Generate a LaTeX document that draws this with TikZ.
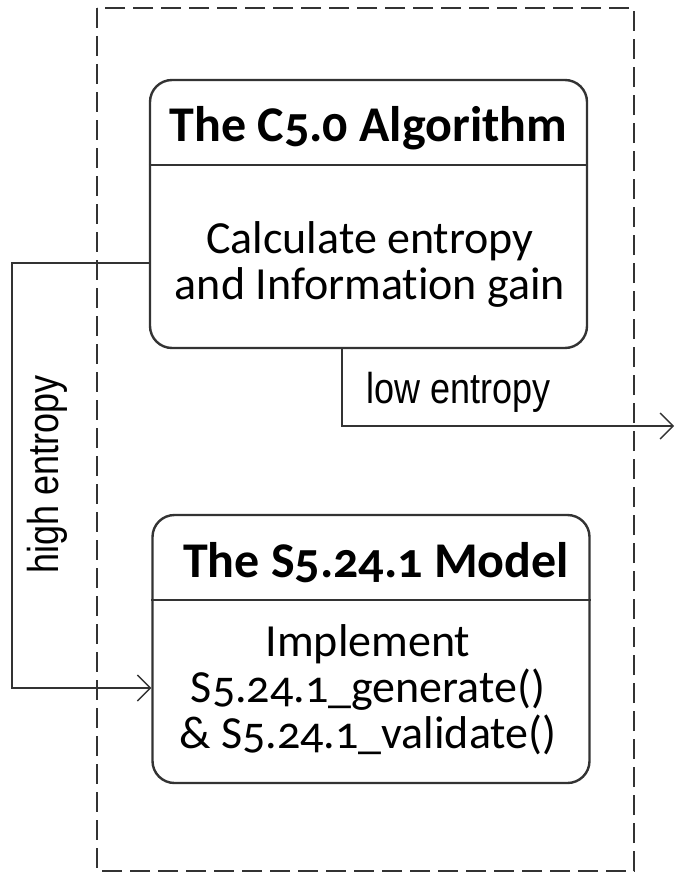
\documentclass[tikz,border=0pt]{standalone}
\usepackage{fontspec}
\setmainfont{Carlito}[Numbers=OldStyle, Ligatures=NoCommon]
\newfontfamily\lblfont{Liberation Sans}
\usetikzlibrary{arrows.meta}
\tikzset{
  umlbox/.style={draw=black!80, line width=2.4pt, rounded corners=22pt, minimum width=437pt, minimum height=268pt, inner sep=0pt},
  conn/.style={draw=black!80, line width=2pt},
  tip/.style={-{Straight Barb[length=13pt,width=26pt,line width=1.4pt]}},
  frame/.style={draw=black!80, line width=2.4pt, dash pattern=on 20pt off 8pt},
  ttl/.style={font=\fontsize{50}{54}\selectfont\bfseries, inner sep=0pt},
  body/.style={font=\fontsize{46}{46}\selectfont, align=center, inner sep=0pt},
  lbl/.style={font=\lblfont\fontsize{36}{40}\selectfont, inner sep=0pt}
}
\begin{document}
\begin{tikzpicture}[x=1pt,y=-1pt]
\useasboundingbox (0,0) rectangle (675,875);
\draw[frame] (97,8) rectangle (634,871);
% box 1
\node[umlbox] (b1) at (368.5,214) {};
\draw[conn, line width=2.4pt] (b1.west |- 0,165) -- (b1.east |- 0,165);
\node[ttl] (t1) at (368.5,128) {The C5.0 Algorithm};
\node[body] (d1) at (370,264) {Calculate entropy\\and Information gain};
% box 2
\node[umlbox] (b2) at (371,649) {};
\draw[conn, line width=2.4pt] (b2.west |- 0,600) -- (b2.east |- 0,600);
\node[ttl] (t2) at (376,563) {The S5.24.1 Model};
\node[body] (d2) at (368,690) {Implement\\S5.24.1\_generate()\\\&~S5.24.1\_validate()};
% connectors
\coordinate (h1) at (12,263);
\coordinate (h2) at (12,688);
\draw[conn, tip] (b1.west |- 0,263) -- (h1) -- (h2) -- (b2.west |- h2);
\node[lbl, rotate=90] (hl) at (47,474) {\scalebox{1}[1.2]{high entropy}};
\coordinate (l1) at (342,426);
\coordinate (l2) at (674,426);
\draw[conn, tip] (b1.south -| l1) -- (l1) -- (l2);
\node[lbl] (ll) at (459,392) {\scalebox{1}[1.2]{low entropy}};
\end{tikzpicture}
\end{document}
